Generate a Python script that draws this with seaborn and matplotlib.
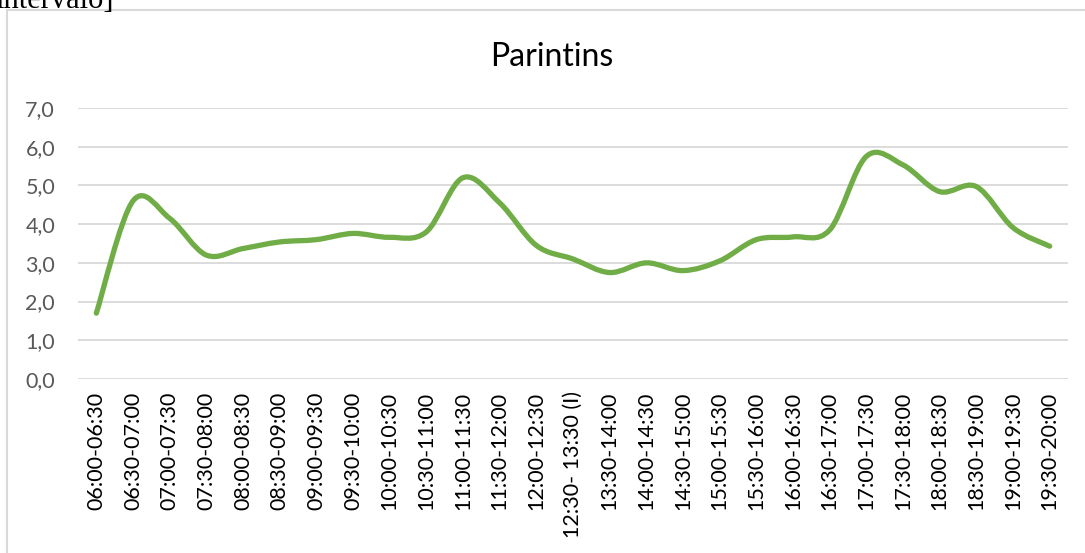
import numpy as np
import matplotlib
matplotlib.use("Agg")
import matplotlib.pyplot as plt
from matplotlib.path import Path
from matplotlib.patches import PathPatch, Rectangle
from matplotlib.ticker import FixedLocator, FuncFormatter
import seaborn as sns

# ---------------- data ----------------
categories = [
    "06:00-06:30", "06:30-07:00", "07:00-07:30", "07:30-08:00", "08:00-08:30",
    "08:30-09:00", "09:00-09:30", "09:30-10:00", "10:00-10:30", "10:30-11:00",
    "11:00-11:30", "11:30-12:00", "12:00-12:30", "12:30- 13:30 (I)", "13:30-14:00",
    "14:00-14:30", "14:30-15:00", "15:00-15:30", "15:30-16:00", "16:00-16:30",
    "16:30-17:00", "17:00-17:30", "17:30-18:00", "18:00-18:30", "18:30-19:00",
    "19:00-19:30", "19:30-20:00",
]
values = [
    1.7, 4.6, 4.15, 3.2, 3.37, 3.54, 3.6, 3.76, 3.66, 3.8,
    5.2, 4.55, 3.45, 3.1, 2.75, 3.0, 2.8, 3.05, 3.6, 3.67,
    3.85, 5.75, 5.53, 4.84, 4.97, 3.91, 3.43,
]
y_ticks = [0, 1, 2, 3, 4, 5, 6, 7]
title = "Parintins"
caption_fragment = "intervalo]"

LINE_COLOR = "#70AD47"
GRID_COLOR = "#D9D9D9"
TEXT_COLOR = "#595959"

# ---------------- figure ----------------
sns.set_theme(style="white")
plt.rcParams["font.family"] = ["Lato", "DejaVu Sans"]

W, H = 1085, 553
fig = plt.figure(figsize=(W / 100, H / 100), dpi=100)
fig.patch.set_facecolor("white")

# axes placement (pixel-measured plot area)
left, right = 78 / W, 1068 / W
bottom, top = 1 - 379 / H, 1 - 108 / H
ax = fig.add_axes([left, bottom, right - left, top - bottom])

sns.lineplot(x=categories, y=values, ax=ax, sort=False, color=LINE_COLOR, lw=3.8)

# Excel-like smoothed line: cubic Bezier through the data points
base_line = ax.lines[0]
xs = np.arange(len(values), dtype=float)
ys = np.asarray(values, dtype=float)
n = len(xs)
verts = [(xs[0], ys[0])]
codes = [Path.MOVETO]
for i in range(n - 1):
    p0 = (xs[i - 1], ys[i - 1]) if i > 0 else (xs[i], ys[i])
    p1 = (xs[i], ys[i])
    p2 = (xs[i + 1], ys[i + 1])
    p3 = (xs[i + 2], ys[i + 2]) if i + 2 < n else (xs[i + 1], ys[i + 1])
    c1 = (p1[0] + (p2[0] - p0[0]) / 6, p1[1] + (p2[1] - p0[1]) / 6)
    c2 = (p2[0] - (p3[0] - p1[0]) / 6, p2[1] - (p3[1] - p1[1]) / 6)
    verts += [c1, c2, p2]
    codes += [Path.CURVE4] * 3
base_line.set_visible(False)
ax.add_patch(PathPatch(Path(verts, codes), facecolor="none", edgecolor=LINE_COLOR,
                       lw=3.8, capstyle="round", joinstyle="round", zorder=3))

ax.set_xlim(-0.5, len(values) - 0.5)
ax.set_ylim(0, 7)
ax.yaxis.set_major_locator(FixedLocator(y_ticks))
ax.yaxis.set_major_formatter(FuncFormatter(lambda v, p: f"{v:.1f}".replace(".", ",")))
ax.grid(axis="y", color=GRID_COLOR, lw=1.3)
ax.grid(axis="x", visible=False)
ax.set_axisbelow(True)
for s in ax.spines.values():
    s.set_visible(False)
ax.set_xlabel("")
ax.set_ylabel("")
ax.tick_params(axis="y", length=0, pad=16.5, labelsize=15.5, labelcolor=TEXT_COLOR)
ax.tick_params(axis="x", length=0, pad=9, labelsize=15.5, labelcolor="black",
               labelrotation=90)
for lbl in ax.get_xticklabels():
    lbl.set_va("top")
    lbl.set_ha("center")
ax.set_facecolor("none")

# title
fig.text(552 / W, 1 - 57 / H, title, ha="center", va="center", fontsize=23, color="black")

# chart frame
fig.patches.append(Rectangle((7 / W, -0.2), 1.2, 1 - 10 / H + 0.2, transform=fig.transFigure,
                             facecolor="none", edgecolor=GRID_COLOR, lw=1.5, zorder=0))

# cut-off caption text at very top (as in the source image)
fig.text(-0.004, 1 - 8 / H, caption_fragment, ha="left", va="baseline",
         fontsize=22, family=["Liberation Serif", "DejaVu Serif"], color="black")

fig.savefig("out.png", dpi=100, facecolor="white")
